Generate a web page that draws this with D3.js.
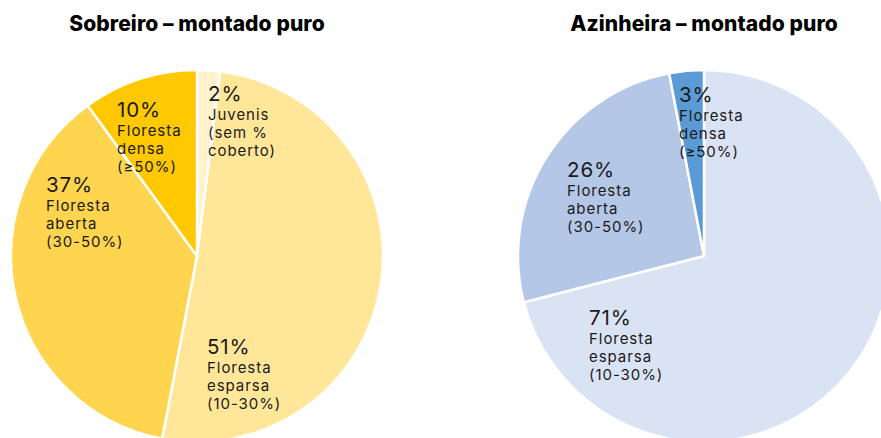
<!DOCTYPE html>
<html lang="pt">
<head>
<meta charset="UTF-8" />
<title>Montado puro</title>
<style>
  body { margin: 0; background: #fff; }
  text { font-family: Inter, "Noto Sans", sans-serif; fill: #1a1a1a; }
  .title { font-size: 21px; font-weight: 800; fill: #000; letter-spacing: 0.1px; }
  .pct { font-size: 20.5px; font-weight: 400; letter-spacing: 0.9px; }
  .desc { font-size: 15px; font-weight: 400; letter-spacing: 0.95px; }
</style>
<script src="https://d3js.org/d3.v7.min.js"></script>
</head>
<body>
<div id="chart"></div>
<script>
// data
const sobreiroCats = ["Juvenis", "Floresta esparsa", "Floresta aberta", "Floresta densa"];
const sobreiroVals = [2, 51, 37, 10];
const sobreiroLabels = [["Juvenis", "(sem %", "coberto)"], ["Floresta", "esparsa", "(10-30%)"], ["Floresta", "aberta", "(30-50%)"], ["Floresta", "densa", "(≥50%)"]];

const azinheiraCats = ["Floresta esparsa", "Floresta aberta", "Floresta densa"];
const azinheiraVals = [71, 26, 3];
const azinheiraLabels = [["Floresta", "esparsa", "(10-30%)"], ["Floresta", "aberta", "(30-50%)"], ["Floresta", "densa", "(≥50%)"]];

const titles = ["Sobreiro – montado puro", "Azinheira – montado puro"];

const width = 881, height = 438;
const radius = 186;

const svg = d3.select("#chart").append("svg")
  .attr("width", width)
  .attr("height", height);

// label placement (offsets of label top-left from pie centre)
const pies = [
  {
    cx: 197, cy: 256, title: titles[0], cats: sobreiroCats, vals: sobreiroVals, labels: sobreiroLabels,
    colors: ["#fff2cc", "#ffe699", "#ffd54f", "#ffc800"],
    labelPos: [[11, -170], [10, 83], [-151, -79], [-80, -154]]
  },
  {
    cx: 704, cy: 256, title: titles[1], cats: azinheiraCats, vals: azinheiraVals, labels: azinheiraLabels,
    colors: ["#dae3f3", "#b4c7e7", "#5b9bd5"],
    labelPos: [[-115, 54], [-137, -94], [-25, -169]]
  }
];

const pie = d3.pie().sort(null).value(d => d);
const arc = d3.arc().innerRadius(0).outerRadius(radius);

pies.forEach(p => {
  svg.append("text")
    .attr("class", "title")
    .attr("x", p.cx)
    .attr("y", 31)
    .attr("text-anchor", "middle")
    .text(p.title);

  const g = svg.append("g").attr("transform", `translate(${p.cx},${p.cy})`);
  const color = d3.scaleOrdinal().domain(p.cats).range(p.colors);
  const arcs = pie(p.vals);

  g.selectAll("path")
    .data(arcs)
    .join("path")
    .attr("d", arc)
    .attr("fill", (d, i) => color(p.cats[i]))
    .attr("stroke", "#fff")
    .attr("stroke-width", 2.5)
    .attr("stroke-linejoin", "round");

  const lbl = g.selectAll("g.lbl")
    .data(arcs)
    .join("g")
    .attr("class", "lbl")
    .attr("transform", (d, i) => `translate(${p.labelPos[i][0]},${p.labelPos[i][1]})`);

  lbl.append("text")
    .attr("class", "pct")
    .attr("y", 14.5)
    .text(d => d.data + "%");

  lbl.each(function (d, i) {
    d3.select(this).selectAll("text.desc")
      .data(p.labels[i])
      .join("text")
      .attr("class", "desc")
      .attr("y", (t, j) => 34 + j * 18)
      .text(t => t);
  });
});
</script>
</body>
</html>
